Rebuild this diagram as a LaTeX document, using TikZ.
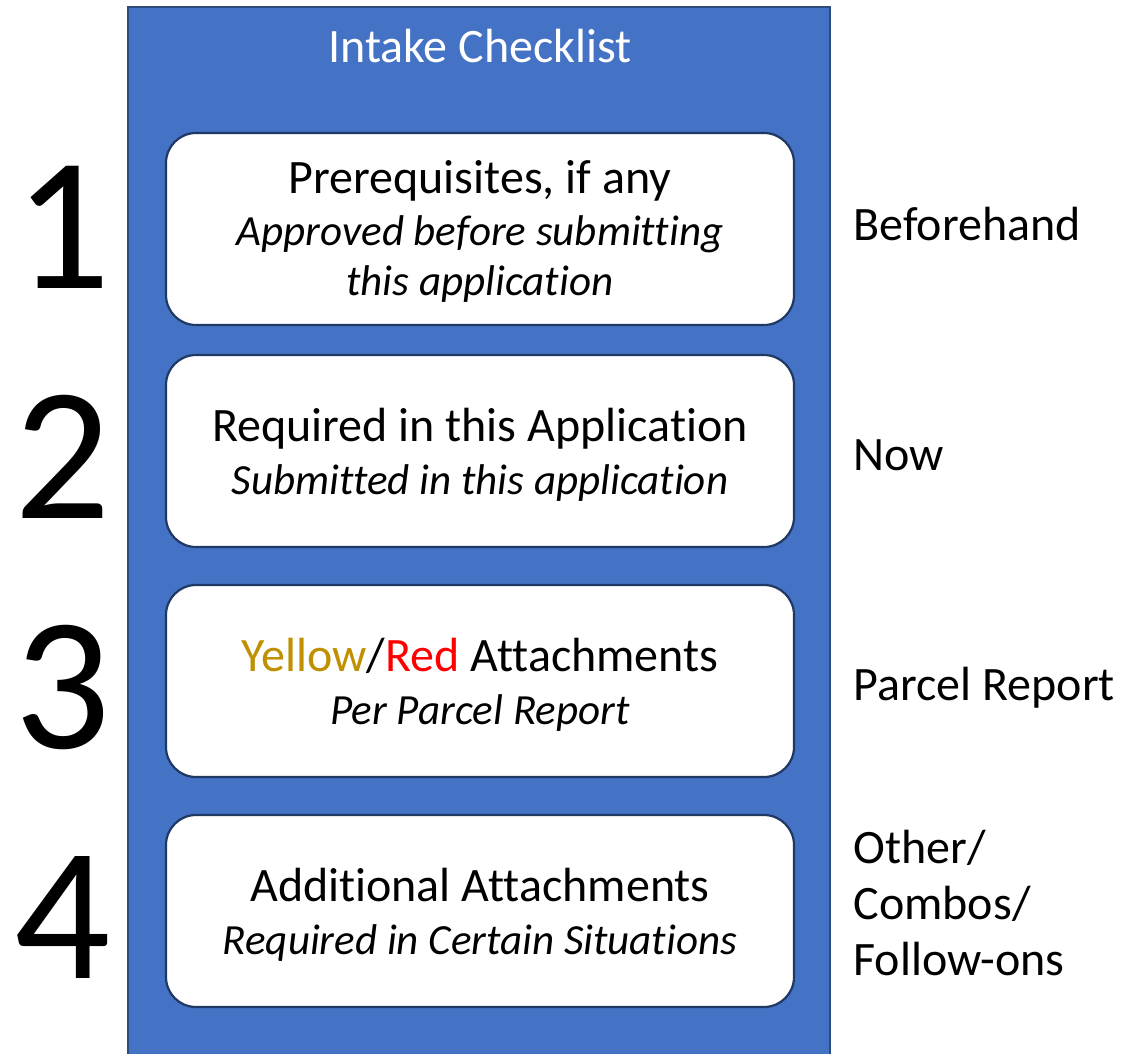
\documentclass[tikz,border=0pt]{standalone}
\usepackage{fontspec}
\setmainfont{Carlito}[Ligatures={NoCommon}]
\definecolor{panelblue}{HTML}{4472C4}
\definecolor{paneledge}{HTML}{2F4B7C}
\definecolor{boxedge}{HTML}{1F3864}
\definecolor{ochre}{HTML}{BF9000}
\begin{document}
\begin{tikzpicture}[x=1pt,y=-1pt,
  stagebox/.style={draw=boxedge,line width=2.2pt,fill=white,rounded corners=30pt},
  maintext/.style={anchor=base,font=\fontsize{48}{56}\selectfont},
  subtext/.style={anchor=base,font=\fontsize{43}{50}\selectfont\itshape},
  bignum/.style={anchor=base,font=\fontsize{190}{190}\selectfont},
  sidetext/.style={anchor=base west,font=\fontsize{48}{56}\selectfont}]
\useasboundingbox (0,0) rectangle (1130,1053);
% background panel
\fill[panelblue] (128,7) rectangle (830,1060);
\draw[paneledge,line width=1.6pt] (128,1060) -- (128,7) -- (830,7) -- (830,1060);
\node[anchor=base,text=white,font=\fontsize{48}{56}\selectfont] (title) at (480,62) {Intake Checklist};
% stage boxes
\draw[stagebox] (166,133) rectangle (794,325);
\draw[stagebox] (166,355) rectangle (794,547);
\draw[stagebox] (166,585) rectangle (794,777);
\draw[stagebox] (166,815) rectangle (794,1007);
% box texts
\node[maintext] (m1) at (480,193) {Prerequisites, if any};
\node[subtext] (s1a) at (480,245) {Approved before submitting};
\node[subtext] (s1b) at (480,295) {this application};
\node[maintext] (m2) at (480,441) {Required in this Application};
\node[subtext] (s2) at (480,494) {Submitted in this application};
\node[maintext] (m3) at (480,671) {\textcolor{ochre}{Yellow}/\textcolor{red}{Red} Attachments};
\node[subtext] (s3) at (480,724) {Per Parcel Report};
\node[maintext] (m4) at (480,901) {Additional Attachments};
\node[subtext] (s4) at (480,954) {Required in Certain Situations};
% step numbers
\node[bignum] (n1) at (63,288) {1};
\node[bignum] (n2) at (63,518) {2};
\node[bignum] (n3) at (63,748) {3};
\node[bignum] (n4) at (63,978) {4};
% timing labels
\node[sidetext] (t1) at (850,240) {Beforehand};
\node[sidetext] (t2) at (850,470) {Now};
\node[sidetext] (t3) at (850,700) {Parcel Report};
\node[sidetext] (t4a) at (850,863) {Other/};
\node[sidetext] (t4b) at (850,919) {Combos/};
\node[sidetext] (t4c) at (850,975) {Follow-ons};
\end{tikzpicture}
\end{document}
